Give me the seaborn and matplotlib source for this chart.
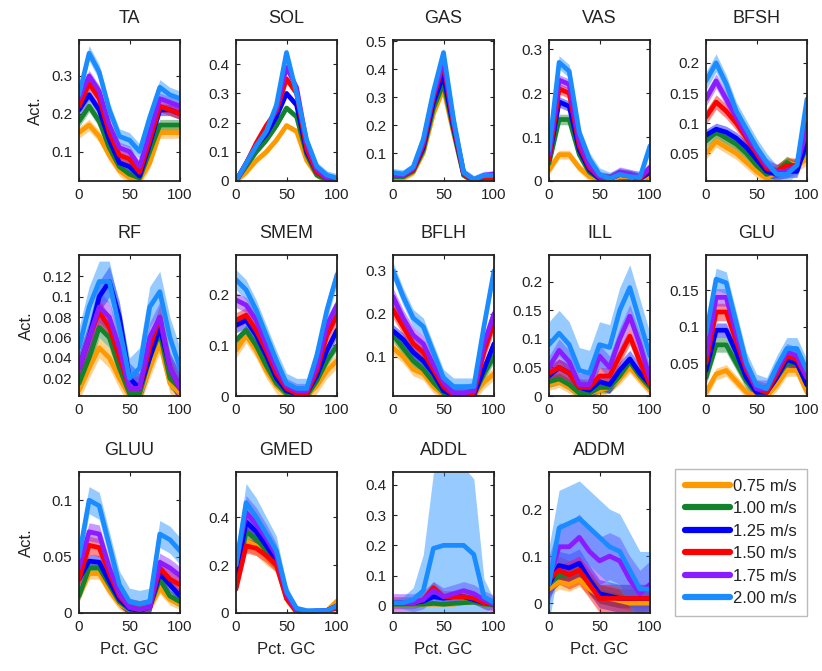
import numpy as np
import matplotlib
matplotlib.use("Agg")
import matplotlib.pyplot as plt
from matplotlib.lines import Line2D
from matplotlib.ticker import FuncFormatter
import seaborn as sns

sns.set_style("ticks")
plt.rcParams['font.family'] = ['Liberation Sans', 'DejaVu Sans']

# percent of gait cycle sampled every 10 %
X = [0, 10, 20, 30, 40, 50, 60, 70, 80, 90, 100]
SPEEDS = ['0.75 m/s', '1.00 m/s', '1.25 m/s', '1.50 m/s', '1.75 m/s', '2.00 m/s']
COLORS = ['#ff9900', '#13822c', '#0000ff', '#ff0000', '#8a1cff', '#1a8cff']
MUSCLES = ['TA', 'SOL', 'GAS', 'VAS', 'BFSH', 'RF', 'SMEM', 'BFLH', 'ILL', 'GLU',
           'GLUU', 'GMED', 'ADDL', 'ADDM']

# mean activation per speed (rows: 0.75 ... 2.00 m/s)
TA = [[0.15, 0.17, 0.14, 0.09, 0.05, 0.03, 0.025, 0.07, 0.15, 0.15, 0.15],
      [0.18, 0.22, 0.18, 0.11, 0.06, 0.04, 0.03, 0.10, 0.17, 0.17, 0.17],
      [0.21, 0.25, 0.21, 0.13, 0.07, 0.06, 0.035, 0.12, 0.21, 0.21, 0.20],
      [0.22, 0.28, 0.24, 0.15, 0.09, 0.08, 0.045, 0.13, 0.22, 0.21, 0.20],
      [0.24, 0.30, 0.26, 0.17, 0.11, 0.10, 0.06, 0.15, 0.24, 0.23, 0.22],
      [0.25, 0.36, 0.31, 0.21, 0.14, 0.13, 0.10, 0.19, 0.27, 0.25, 0.24]]
SOL = [[0.0, 0.03, 0.07, 0.10, 0.14, 0.19, 0.17, 0.07, 0.02, 0.0, 0.0],
       [0.0, 0.05, 0.10, 0.14, 0.19, 0.25, 0.22, 0.09, 0.02, 0.005, 0.0],
       [0.0, 0.06, 0.12, 0.16, 0.22, 0.30, 0.26, 0.10, 0.03, 0.01, 0.0],
       [0.0, 0.06, 0.13, 0.19, 0.24, 0.35, 0.30, 0.11, 0.03, 0.01, 0.005],
       [0.0, 0.06, 0.12, 0.17, 0.25, 0.39, 0.32, 0.13, 0.04, 0.01, 0.005],
       [0.0, 0.06, 0.12, 0.17, 0.26, 0.44, 0.30, 0.14, 0.05, 0.02, 0.01]]
GAS = [[0.01, 0.01, 0.03, 0.10, 0.24, 0.33, 0.17, 0.02, 0.0, 0.005, 0.005],
       [0.015, 0.015, 0.035, 0.11, 0.26, 0.35, 0.18, 0.02, 0.0, 0.01, 0.01],
       [0.02, 0.02, 0.04, 0.12, 0.28, 0.38, 0.19, 0.025, 0.0, 0.015, 0.015],
       [0.02, 0.02, 0.04, 0.13, 0.30, 0.42, 0.20, 0.025, 0.0, 0.015, 0.015],
       [0.02, 0.02, 0.045, 0.14, 0.31, 0.43, 0.21, 0.03, 0.005, 0.02, 0.025],
       [0.03, 0.025, 0.05, 0.15, 0.32, 0.46, 0.22, 0.03, 0.005, 0.02, 0.02]]
VAS = [[0.025, 0.06, 0.06, 0.03, 0.01, 0.003, 0.003, 0.01, 0.01, 0.005, 0.01],
       [0.04, 0.14, 0.14, 0.06, 0.02, 0.005, 0.005, 0.015, 0.012, 0.005, 0.02],
       [0.05, 0.18, 0.17, 0.07, 0.025, 0.005, 0.005, 0.015, 0.012, 0.005, 0.02],
       [0.05, 0.21, 0.20, 0.08, 0.03, 0.008, 0.005, 0.015, 0.012, 0.005, 0.03],
       [0.06, 0.23, 0.22, 0.09, 0.035, 0.01, 0.005, 0.02, 0.015, 0.008, 0.03],
       [0.07, 0.27, 0.25, 0.11, 0.05, 0.015, 0.005, 0.015, 0.01, 0.008, 0.08]]
BFSH = [[0.05, 0.07, 0.06, 0.05, 0.035, 0.02, 0.008, 0.02, 0.035, 0.03, 0.04],
        [0.07, 0.085, 0.075, 0.065, 0.05, 0.03, 0.015, 0.02, 0.035, 0.025, 0.06],
        [0.08, 0.09, 0.085, 0.075, 0.06, 0.04, 0.02, 0.015, 0.02, 0.02, 0.07],
        [0.11, 0.135, 0.12, 0.10, 0.075, 0.05, 0.025, 0.02, 0.03, 0.03, 0.10],
        [0.14, 0.17, 0.14, 0.11, 0.08, 0.055, 0.03, 0.02, 0.02, 0.03, 0.09],
        [0.17, 0.20, 0.165, 0.12, 0.09, 0.06, 0.035, 0.015, 0.015, 0.03, 0.14]]
RF = [[0.008, 0.03, 0.05, 0.04, 0.02, 0.003, 0.003, 0.03, 0.055, 0.015, 0.005],
      [0.015, 0.04, 0.07, 0.06, 0.03, 0.005, 0.005, 0.04, 0.065, 0.02, 0.01],
      [0.03, 0.06, 0.10, 0.115, 0.08, 0.02, 0.01, 0.04, 0.07, 0.03, 0.01],
      [0.03, 0.06, 0.085, 0.07, 0.04, 0.01, 0.01, 0.05, 0.08, 0.03, 0.01],
      [0.03, 0.06, 0.09, 0.08, 0.05, 0.01, 0.01, 0.06, 0.08, 0.03, 0.01],
      [0.05, 0.09, 0.115, 0.115, 0.07, 0.02, 0.03, 0.09, 0.105, 0.06, 0.03]]
SMEM = [[0.09, 0.12, 0.09, 0.05, 0.02, 0.003, 0.0, 0.0, 0.02, 0.05, 0.07],
        [0.11, 0.13, 0.10, 0.06, 0.025, 0.005, 0.0, 0.0, 0.03, 0.07, 0.10],
        [0.14, 0.15, 0.12, 0.08, 0.035, 0.01, 0.005, 0.005, 0.04, 0.09, 0.13],
        [0.15, 0.16, 0.13, 0.09, 0.045, 0.015, 0.005, 0.005, 0.05, 0.12, 0.16],
        [0.19, 0.18, 0.15, 0.10, 0.055, 0.02, 0.01, 0.01, 0.06, 0.14, 0.18],
        [0.23, 0.21, 0.17, 0.12, 0.07, 0.025, 0.015, 0.015, 0.08, 0.17, 0.24]]
BFLH = [[0.12, 0.10, 0.07, 0.06, 0.03, 0.01, 0.005, 0.005, 0.01, 0.04, 0.06],
        [0.15, 0.12, 0.09, 0.07, 0.04, 0.015, 0.005, 0.005, 0.01, 0.06, 0.10],
        [0.16, 0.14, 0.11, 0.09, 0.06, 0.02, 0.01, 0.01, 0.01, 0.07, 0.13],
        [0.21, 0.17, 0.13, 0.11, 0.07, 0.03, 0.01, 0.01, 0.015, 0.11, 0.18],
        [0.24, 0.19, 0.15, 0.13, 0.08, 0.04, 0.015, 0.015, 0.02, 0.13, 0.20],
        [0.30, 0.24, 0.19, 0.17, 0.11, 0.05, 0.03, 0.03, 0.03, 0.17, 0.30]]
ILL = [[0.02, 0.025, 0.015, 0.005, 0.005, 0.01, 0.015, 0.03, 0.05, 0.03, 0.01],
       [0.025, 0.03, 0.02, 0.005, 0.005, 0.015, 0.015, 0.035, 0.06, 0.035, 0.015],
       [0.035, 0.05, 0.04, 0.015, 0.01, 0.025, 0.02, 0.045, 0.065, 0.04, 0.02],
       [0.04, 0.05, 0.04, 0.015, 0.015, 0.035, 0.035, 0.07, 0.105, 0.06, 0.02],
       [0.05, 0.08, 0.06, 0.02, 0.02, 0.07, 0.05, 0.10, 0.14, 0.09, 0.03],
       [0.09, 0.11, 0.09, 0.045, 0.04, 0.09, 0.085, 0.15, 0.19, 0.13, 0.07]]
GLU = [[0.01, 0.035, 0.04, 0.025, 0.01, 0.005, 0.005, 0.02, 0.04, 0.04, 0.01],
       [0.03, 0.075, 0.075, 0.05, 0.025, 0.01, 0.01, 0.03, 0.05, 0.05, 0.02],
       [0.04, 0.095, 0.095, 0.065, 0.03, 0.01, 0.01, 0.03, 0.055, 0.05, 0.02],
       [0.05, 0.12, 0.12, 0.08, 0.04, 0.015, 0.01, 0.035, 0.06, 0.055, 0.03],
       [0.06, 0.14, 0.14, 0.09, 0.045, 0.015, 0.015, 0.04, 0.065, 0.06, 0.03],
       [0.09, 0.165, 0.16, 0.105, 0.05, 0.02, 0.015, 0.045, 0.07, 0.07, 0.04]]
GLUU = [[0.015, 0.035, 0.035, 0.02, 0.008, 0.003, 0.002, 0.005, 0.022, 0.012, 0.008],
        [0.015, 0.04, 0.04, 0.025, 0.01, 0.003, 0.002, 0.005, 0.03, 0.015, 0.01],
        [0.03, 0.046, 0.045, 0.028, 0.012, 0.004, 0.002, 0.005, 0.035, 0.025, 0.015],
        [0.03, 0.06, 0.058, 0.035, 0.015, 0.005, 0.003, 0.005, 0.04, 0.03, 0.025],
        [0.04, 0.072, 0.07, 0.04, 0.017, 0.005, 0.003, 0.005, 0.045, 0.04, 0.033],
        [0.05, 0.10, 0.095, 0.06, 0.025, 0.01, 0.008, 0.01, 0.07, 0.065, 0.055]]
GMED = [[0.12, 0.30, 0.28, 0.24, 0.20, 0.06, 0.0, 0.0, 0.005, 0.01, 0.05],
        [0.12, 0.34, 0.31, 0.26, 0.21, 0.07, 0.005, 0.005, 0.005, 0.01, 0.03],
        [0.15, 0.38, 0.34, 0.28, 0.22, 0.08, 0.01, 0.005, 0.005, 0.01, 0.03],
        [0.10, 0.28, 0.27, 0.24, 0.20, 0.06, 0.005, 0.005, 0.005, 0.01, 0.02],
        [0.20, 0.42, 0.37, 0.31, 0.24, 0.08, 0.01, 0.005, 0.01, 0.01, 0.03],
        [0.20, 0.46, 0.40, 0.33, 0.26, 0.09, 0.02, 0.01, 0.01, 0.01, 0.03]]
ADDL = [[0.005, 0.005, 0.005, 0.005, 0.005, 0.005, 0.005, 0.01, 0.015, 0.005, 0.003],
        [0.005, 0.005, 0.005, 0.005, 0.008, 0.005, 0.008, 0.01, 0.012, 0.005, 0.003],
        [0.01, 0.01, 0.01, 0.015, 0.03, 0.025, 0.03, 0.03, 0.02, 0.01, 0.005],
        [0.01, 0.01, 0.01, 0.02, 0.06, 0.03, 0.03, 0.03, 0.025, 0.01, 0.005],
        [0.01, 0.01, 0.01, 0.02, 0.05, 0.03, 0.04, 0.05, 0.04, 0.02, 0.005],
        [0.01, 0.01, 0.02, 0.05, 0.19, 0.20, 0.20, 0.20, 0.17, 0.03, 0.01]]
ADDM = [[0.03, 0.045, 0.04, 0.05, 0.03, 0.015, 0.01, 0.005, 0.0, 0.0, 0.0],
        [0.04, 0.06, 0.06, 0.07, 0.04, 0.02, 0.015, 0.01, 0.01, 0.01, 0.01],
        [0.04, 0.08, 0.075, 0.085, 0.05, 0.02, 0.015, 0.01, 0.01, 0.01, 0.01],
        [0.05, 0.07, 0.06, 0.07, 0.04, 0.01, 0.01, 0.01, 0.01, 0.01, 0.01],
        [0.05, 0.12, 0.12, 0.14, 0.11, 0.09, 0.10, 0.09, 0.05, 0.02, 0.04],
        [0.04, 0.16, 0.17, 0.18, 0.16, 0.14, 0.12, 0.11, 0.07, 0.03, 0.03]]

# standard deviation band per speed (scalar or one value per sample)
TA_SD = [0.015, 0.015, 0.015, 0.015, 0.015, 0.02]
SOL_SD = [0.01, 0.01, 0.01, 0.012, 0.012, 0.015]
GAS_SD = [0.01, 0.01, 0.01, 0.012, 0.012, 0.015]
VAS_SD = [0.01, 0.012, 0.012, 0.012, 0.012, 0.015]
BFSH_SD = [0.01, 0.01, 0.01, 0.012, 0.012, 0.015]
RF_SD = [0.01, 0.01, 0.015, 0.012, 0.015, 0.02]
SMEM_SD = [0.015, 0.01, 0.015, 0.015, 0.015, 0.02]
BFLH_SD = [0.015, 0.015, 0.015, 0.02, 0.02, 0.02]
ILL_SD = [0.01, 0.01, 0.015, 0.015, 0.02, 0.04]
GLU_SD = [0.008, 0.01, 0.01, 0.012, 0.012, 0.015]
GLUU_SD = [0.005, 0.005, 0.006, 0.008, 0.008, 0.012]
GMED_SD = [[0.03, 0.04, 0.04, 0.04, 0.03, 0.02, 0.005, 0.005, 0.005, 0.005, 0.02],
           [0.03, 0.04, 0.04, 0.04, 0.03, 0.02, 0.005, 0.005, 0.005, 0.005, 0.01],
           [0.04, 0.05, 0.05, 0.05, 0.04, 0.02, 0.005, 0.005, 0.005, 0.005, 0.01],
           [0.02, 0.03, 0.03, 0.03, 0.03, 0.02, 0.005, 0.005, 0.005, 0.005, 0.01],
           [0.05, 0.07, 0.07, 0.06, 0.05, 0.03, 0.01, 0.005, 0.005, 0.005, 0.01],
           [0.06, 0.08, 0.08, 0.07, 0.06, 0.03, 0.01, 0.005, 0.005, 0.005, 0.01]]
ADDL_SD = [0.005, 0.005, 0.01, 0.02, 0.03,
           [0.01, 0.02, 0.04, 0.12, 0.25, 0.26, 0.26, 0.26, 0.25, 0.06, 0.01]]
ADDM_SD = [0.015, 0.02, 0.03, 0.03, 0.05, 0.08]

MEANS = [TA, SOL, GAS, VAS, BFSH, RF, SMEM, BFLH, ILL, GLU, GLUU, GMED, ADDL, ADDM]
SDS = [TA_SD, SOL_SD, GAS_SD, VAS_SD, BFSH_SD, RF_SD, SMEM_SD, BFLH_SD, ILL_SD,
       GLU_SD, GLUU_SD, GMED_SD, ADDL_SD, ADDM_SD]

YLIMS = [(0.022, 0.395), (0, 0.483), (0, 0.505), (0, 0.321), (0.004, 0.238),
         (0.0026, 0.141), (0, 0.279), (0.008, 0.337), (0, 0.247), (0.005, 0.198),
         (0, 0.125), (0, 0.588), (-0.024, 0.443), (-0.021, 0.279)]
YTICKS = [[0.1, 0.2, 0.3], [0, 0.1, 0.2, 0.3, 0.4], [0.1, 0.2, 0.3, 0.4, 0.5],
          [0, 0.1, 0.2, 0.3], [0.05, 0.1, 0.15, 0.2],
          [0.02, 0.04, 0.06, 0.08, 0.1, 0.12], [0, 0.1, 0.2], [0.1, 0.2, 0.3],
          [0, 0.05, 0.1, 0.15, 0.2], [0.05, 0.1, 0.15], [0, 0.05, 0.1],
          [0, 0.2, 0.4], [0, 0.1, 0.2, 0.3, 0.4], [0, 0.1, 0.2]]

W, H = 822, 671
fig = plt.figure(figsize=(W / 100, H / 100), dpi=100)

col_left = [79, 236, 393, 549, 706]   # pixel positions of the panels
row_top = [40, 255, 472]
aw, ah = 101, 141

fmt = FuncFormatter(lambda v, p: '%g' % v)

def panel_axes(i):
    r, c = divmod(i, 5)
    return fig.add_axes([col_left[c] / W, (H - row_top[r] - ah) / H, aw / W, ah / H])

for i, name in enumerate(MUSCLES):
    ax = panel_axes(i)
    for k in range(6):
        m = np.array(MEANS[i][k])
        sd = np.array(SDS[i][k])
        ax.fill_between(X, m - sd, m + sd, color=COLORS[k], alpha=0.45, lw=0)
        sns.lineplot(x=X, y=m, color=COLORS[k], lw=3.4, ax=ax)
    ax.set_xlim(0, 100)
    ax.set_ylim(*YLIMS[i])
    ax.set_xticks([0, 50, 100])
    ax.set_yticks(YTICKS[i])
    ax.yaxis.set_major_formatter(fmt)
    ax.tick_params(direction='in', top=True, right=True, length=3,
                   labelsize=11, colors='#222222', pad=5)
    for s in ax.spines.values():
        s.set_linewidth(1.3)
        s.set_color('#222222')
    ax.set_title(name, fontsize=13, pad=12, color='#222222')
    if i % 5 == 0:
        ax.set_ylabel('Act.', fontsize=12, color='#222222', labelpad=6)
    if i >= 10:
        ax.set_xlabel('Pct. GC', fontsize=12, color='#222222', labelpad=6)

# legend in the empty slot
lax = panel_axes(14)
lax.axis('off')
handles = [Line2D([0], [0], color=c, lw=4.5) for c in COLORS]
leg = lax.legend(handles, SPEEDS, loc='center right', bbox_to_anchor=(1.0, 0.5),
                 borderaxespad=0, fontsize=12, frameon=True, fancybox=False,
                 handlelength=2.7, handletextpad=0.2, borderpad=0.6,
                 labelspacing=0.45)
leg.get_frame().set_edgecolor('#aaaaaa')
leg.get_frame().set_linewidth(1.0)
for t in leg.get_texts():
    t.set_color('#222222')

fig.savefig('out.png', dpi=100)
